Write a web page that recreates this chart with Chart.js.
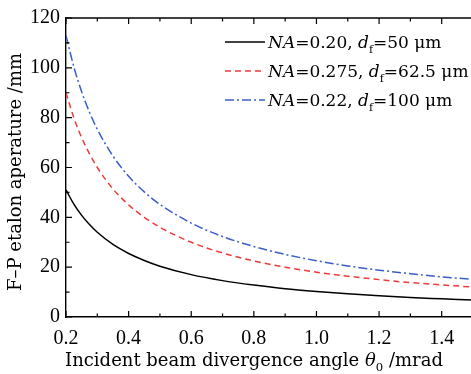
<!DOCTYPE html>
<html>
<head>
<meta charset="utf-8">
<script src="https://cdn.jsdelivr.net/npm/chart.js@4"></script>
<style>
  html, body { margin: 0; padding: 0; background: #fff; overflow: hidden; }
  canvas { display: block; }
</style>
</head>
<body>
<canvas id="apertureChart" width="476" height="374"></canvas>
<script>
// Data
const theta = [0.2, 0.225, 0.25, 0.275, 0.3, 0.35, 0.4, 0.45, 0.5, 0.6, 0.7, 0.8, 0.9, 1.0, 1.1, 1.2, 1.3, 1.4, 1.5];
const apertureNA020 = [51, 45.3, 40.8, 37.1, 34, 29.1, 25.5, 22.7, 20.4, 17, 14.6, 12.8, 11.3, 10.2, 9.3, 8.5, 7.8, 7.3, 6.8];
const apertureNA0275 = [90, 80, 72, 65.5, 60, 51.4, 45, 40, 36, 30, 25.7, 22.5, 20, 18, 16.4, 15, 13.8, 12.9, 12];
const apertureNA022 = [113, 100.4, 90.4, 82.2, 75.3, 64.6, 56.5, 50.2, 45.2, 37.7, 32.3, 28.3, 25.1, 22.6, 20.5, 18.8, 17.4, 16.1, 15.1];

const seriesNA = ["0.20", "0.275", "0.22"];
const seriesDf = ["50", "62.5", "100"];
const xTicks = [0.2, 0.4, 0.6, 0.8, 1.0, 1.2, 1.4];
const yTicks = [0, 20, 40, 60, 80, 100, 120];

const TITLE_FONT = "DejaVu Serif";
const TICK_FONT = "Liberation Serif";

const colors = ["#000000", "#f03a3a", "#3a5fc8"];
const dashes = [[], [6, 4], [9, 3, 2, 3]];

function toPoints(ys) {
    return theta.map((t, i) => ({ x: t, y: ys[i] }));
}

// draw a run of text pieces (normal / italic / subscript)
function drawRich(ctx, parts, x, y, size, align) {
    const fontFor = p => (p.italic ? "italic " : "") + (p.sub ? size * 0.65 : size) + "px " + TITLE_FONT;
    let total = 0;
    parts.forEach(p => { ctx.font = fontFor(p); total += ctx.measureText(p.text).width; });
    let cx = align === "center" ? x - total / 2 : x;
    ctx.textAlign = "left";
    ctx.textBaseline = "alphabetic";
    parts.forEach(p => {
        ctx.font = fontFor(p);
        ctx.fillText(p.text, cx, p.sub ? y + size * 0.3 : y);
        cx += ctx.measureText(p.text).width;
    });
}

const frameAndText = {
    id: "frameAndText",
    afterDraw(chart) {
        const { ctx, chartArea: a, scales: { x, y } } = chart;
        ctx.save();
        ctx.strokeStyle = "#000";
        ctx.lineWidth = 1.4;

        // top frame line
        ctx.beginPath();
        ctx.moveTo(a.left, a.top);
        ctx.lineTo(a.right, a.top);
        ctx.stroke();

        // inward ticks
        ctx.lineWidth = 1.2;
        ctx.beginPath();
        xTicks.forEach(v => {
            [[v, 6], [v + 0.1, 3.5]].forEach(([val, len]) => {
                if (val > x.max + 1e-9) return;
                const px = x.getPixelForValue(val);
                ctx.moveTo(px, a.bottom); ctx.lineTo(px, a.bottom - len);
                ctx.moveTo(px, a.top); ctx.lineTo(px, a.top + len);
            });
        });
        yTicks.forEach(v => {
            [[v, 6], [v + 10, 3.5]].forEach(([val, len]) => {
                if (val > y.max) return;
                const py = y.getPixelForValue(val);
                ctx.moveTo(a.left, py); ctx.lineTo(a.left + len, py);
            });
        });
        ctx.stroke();

        ctx.fillStyle = "#000";
        // x title
        drawRich(ctx, [
            { text: "Incident beam divergence angle " },
            { text: "θ", italic: true },
            { text: "0", sub: true },
            { text: " /mrad" }
        ], 254, 366, 18, "center");

        // y title
        ctx.save();
        ctx.translate(21, 172);
        ctx.rotate(-Math.PI / 2);
        drawRich(ctx, [{ text: "F–P etalon aperature /mm" }], 0, 0, 18, "center");
        ctx.restore();

        // legend
        const rowY = [42, 71, 100];
        chart.data.datasets.forEach((ds, i) => {
            ctx.strokeStyle = colors[i];
            ctx.lineWidth = 1.5;
            ctx.setLineDash(dashes[i]);
            ctx.beginPath();
            ctx.moveTo(225, rowY[i]);
            ctx.lineTo(265, rowY[i]);
            ctx.stroke();
            ctx.setLineDash([]);
            drawRich(ctx, [
                { text: "NA", italic: true },
                { text: "=" + seriesNA[i] + ", " },
                { text: "d", italic: true },
                { text: "f", sub: true },
                { text: "=" + seriesDf[i] + " μm" }
            ], 268, rowY[i] + 6, 17, "left");
        });
        ctx.restore();
    }
};

const datasets = [apertureNA020, apertureNA0275, apertureNA022].map((ys, i) => ({
    label: "NA=" + seriesNA[i] + ", df=" + seriesDf[i] + " μm",
    data: toPoints(ys),
    borderColor: colors[i],
    borderWidth: 1.5,
    borderDash: dashes[i],
    pointRadius: 0,
    fill: false,
    cubicInterpolationMode: "monotone"
}));

new Chart(document.getElementById("apertureChart").getContext("2d"), {
    type: "line",
    data: { datasets: datasets },
    options: {
        responsive: false,
        animation: false,
        devicePixelRatio: 1,
        layout: { padding: { top: 17, right: 3, left: 0, bottom: 0 } },
        plugins: { legend: { display: false }, tooltip: { enabled: false } },
        scales: {
            x: {
                type: "linear",
                min: 0.2,
                max: 1.5,
                afterBuildTicks: scale => { scale.ticks = xTicks.map(v => ({ value: v })); },
                afterFit: scale => { scale.height = 57; },
                border: { display: true, color: "#000", width: 1.4 },
                grid: { drawOnChartArea: false, drawTicks: false },
                ticks: {
                    padding: 10,
                    color: "#000",
                    font: { family: TICK_FONT, size: 20 },
                    maxRotation: 0,
                    callback: v => v.toFixed(1)
                }
            },
            y: {
                min: 0,
                max: 120,
                afterBuildTicks: scale => { scale.ticks = yTicks.map(v => ({ value: v })); },
                afterFit: scale => { scale.width = 66; },
                border: { display: true, color: "#000", width: 1.4 },
                grid: { drawOnChartArea: false, drawTicks: false },
                ticks: {
                    padding: 6,
                    color: "#000",
                    font: { family: TICK_FONT, size: 20 }
                }
            }
        }
    },
    plugins: [frameAndText]
});
</script>
</body>
</html>
